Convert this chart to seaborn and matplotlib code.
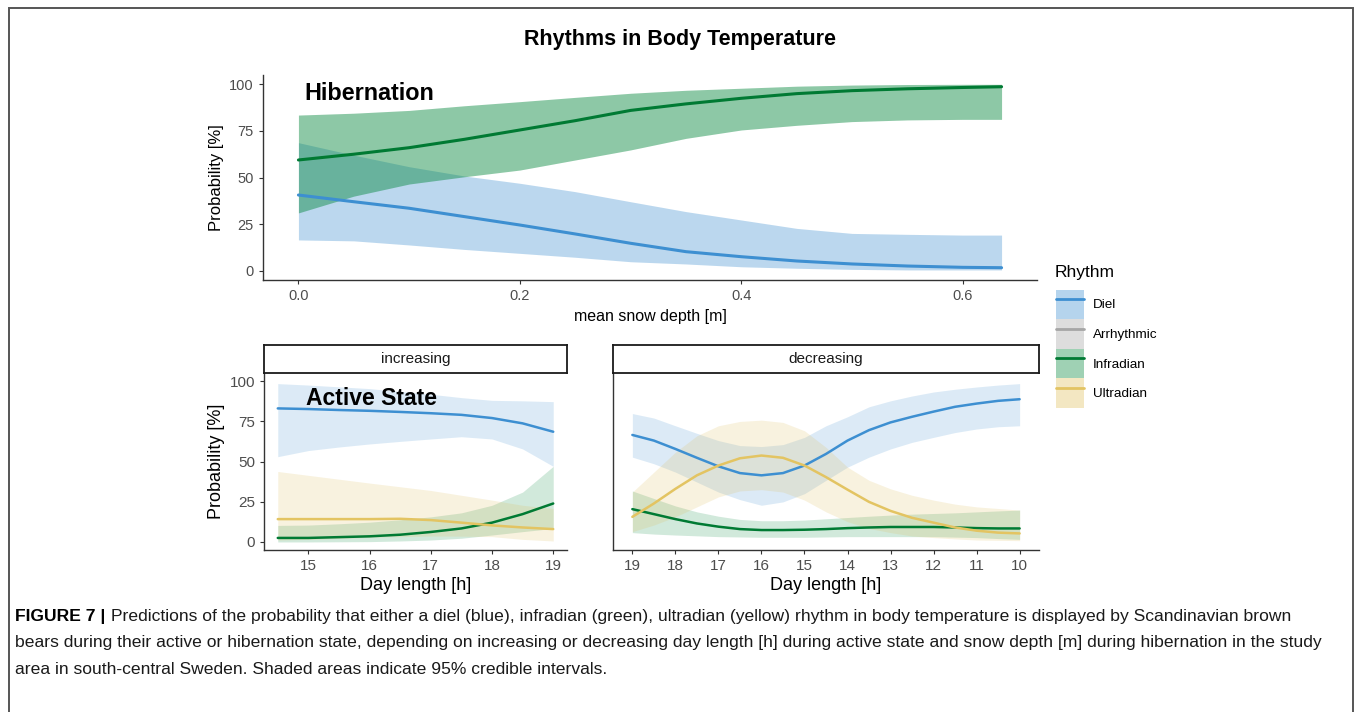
import numpy as np
import pandas as pd
import seaborn as sns
import matplotlib.pyplot as plt
from matplotlib.patches import Patch, Rectangle
from matplotlib.lines import Line2D

# Hibernation: probability vs mean snow depth
snow_depth = [0.0, 0.05, 0.1, 0.15, 0.2, 0.25, 0.3, 0.35, 0.4, 0.45, 0.5, 0.55, 0.6, 0.635]
hib_diel = [40.6, 37, 33.5, 29, 24.5, 19.7, 14.7, 10.2, 7.5, 5.2, 3.6, 2.5, 1.8, 1.6]
hib_diel_hi = [68.7, 62, 55.8, 50.8, 46.9, 42.4, 37, 31.7, 27.2, 22.7, 20, 19.5, 19.1, 19.1]
hib_diel_lo = [16.5, 16, 13.8, 11.4, 9.3, 7.2, 4.8, 3.6, 2.1, 1.3, 0.7, 0.4, 0.4, 0.4]
hib_infra = [59.4, 62.5, 66, 70.5, 75.5, 80.5, 86, 89.5, 92.5, 95, 96.6, 97.6, 98.3, 98.7]
hib_infra_hi = [83.5, 84.5, 86, 88.5, 90.7, 93, 95.2, 96.8, 97.9, 99, 99.6, 99.9, 100, 100]
hib_infra_lo = [31, 40, 46.5, 50.4, 54, 59.4, 64.8, 71, 75.5, 78, 80, 80.9, 81.2, 81.2]

# Active state, increasing day length
inc_day = [14.5, 15, 15.5, 16, 16.5, 17, 17.5, 18, 18.5, 19]
inc_diel = [83, 82.6, 82, 81.5, 80.8, 80, 79, 77, 73.7, 68.5]
inc_diel_hi = [98.4, 97.5, 96.4, 95.3, 93.5, 91.8, 89.7, 88, 87.7, 87.2]
inc_diel_lo = [53, 56.8, 59, 60.9, 62.5, 64, 65.4, 64, 57.8, 47]
inc_infra = [2.5, 2.5, 3, 3.5, 4.5, 6.2, 8.4, 12, 17.3, 23.9]
inc_infra_hi = [10.3, 10.5, 11.3, 12.3, 13.8, 15.6, 18.1, 22.8, 31, 47]
inc_infra_lo = [0, 0, 0.1, 0.2, 0.6, 1.2, 2.3, 4.3, 6.4, 8.4]
inc_ultra = [14.2, 14.2, 14.2, 14.2, 14.4, 13.6, 12, 10.3, 9, 8]
inc_ultra_hi = [43.8, 41.4, 39, 36.6, 34.3, 32, 29, 26, 22.8, 20.8]
inc_ultra_lo = [1.2, 1.6, 2.2, 2.9, 3.3, 3.7, 3.6, 3.3, 1.6, 0.6]

# Active state, decreasing day length
dec_day = [19, 18.5, 18, 17.5, 17, 16.5, 16, 15.5, 15, 14.5, 14, 13.5, 13, 12.5, 12, 11.5, 11, 10.5, 10]
dec_diel = [66.5, 63, 57.8, 52.3, 47, 42.8, 41.4, 42.8, 47.5, 54.7, 63, 69.5, 74.3, 77.8, 81, 84, 86, 87.7, 88.7]
dec_diel_hi = [79.8, 77, 72.2, 67.5, 63, 59.9, 59.3, 60.5, 65, 72.2, 77.8, 84, 87.7, 90.7, 93.2, 94.9, 96.3, 97.5, 98.4]
dec_diel_lo = [52.7, 48.6, 43.4, 37.2, 31, 26.3, 22.8, 24.9, 30, 38.3, 46.5, 52.7, 57.8, 61.9, 65, 68, 70.2, 71.6, 72.2]
dec_infra = [20.4, 17.3, 14.2, 11.5, 9.5, 8, 7.4, 7.4, 7.6, 8, 8.6, 9, 9.3, 9.3, 9.3, 9, 8.6, 8.4, 8.4]
dec_infra_hi = [31.7, 27, 22.4, 18.7, 16, 14, 13.2, 13.2, 13.6, 14.4, 15.2, 16, 16.7, 17.3, 17.7, 18.1, 18.7, 19.3, 19.8]
dec_infra_lo = [5.8, 4.9, 4.3, 3.8, 3.3, 3.1, 2.9, 2.9, 2.9, 3.1, 3.3, 3.3, 3.3, 3.3, 3.3, 3, 2.7, 2.1, 1.6]
dec_ultra = [15.6, 23.9, 33, 41.4, 47.5, 52, 53.7, 52.3, 47.5, 40.3, 32.5, 24.9, 19.3, 15, 12, 9, 7, 5.8, 5.3]
dec_ultra_hi = [31, 43.4, 55.8, 66, 72.2, 74.9, 75.7, 74.3, 69.1, 58.8, 46.5, 38.3, 33, 29, 26, 23.5, 21.8, 20.8, 19.8]
dec_ultra_lo = [6.4, 10.5, 15.6, 21.8, 28, 31.7, 32.5, 31, 26, 18.7, 12.6, 8.4, 5.8, 3.7, 2.7, 1.9, 1.2, 1, 0.8]

rhythms = ["Diel", "Arrhythmic", "Infradian", "Ultradian"]
line_colors = {"Diel": "#3D8FD1", "Arrhythmic": "#A6A6A6", "Infradian": "#007A33", "Ultradian": "#E3C462"}
fill_colors = {"Diel": "#3D8FD1", "Arrhythmic": "#A6A6A6", "Infradian": "#03873B", "Ultradian": "#E0C060"}

caption = [
    "Predictions of the probability that either a diel (blue), infradian (green), ultradian (yellow) rhythm in body temperature is displayed by Scandinavian brown",
    "bears during their active or hibernation state, depending on increasing or decreasing day length [h] during active state and snow depth [m] during hibernation in the study",
    "area in south-central Sweden. Shaded areas indicate 95% credible intervals.",
]

sns.set_style("ticks")
plt.rcParams['font.family'] = ['Liberation Sans', 'DejaVu Sans']
plt.rcParams['text.color'] = 'black'
plt.rcParams['axes.labelcolor'] = 'black'

W, H = 1355, 712
fig = plt.figure(figsize=(W / 100, H / 100), dpi=100)


def box(l, t, r, b):
    return [l / W, 1 - b / H, (r - l) / W, (b - t) / H]


def band(ax, x, mid, lo, hi, name, alpha, lw):
    ax.fill_between(x, lo, hi, color=fill_colors[name], alpha=alpha, lw=0)
    sns.lineplot(x=x, y=mid, color=line_colors[name], lw=lw, ax=ax, sort=False)


def style(ax, labelsize):
    sns.despine(ax=ax)
    for s in ["left", "bottom"]:
        ax.spines[s].set_color("#333333")
        ax.spines[s].set_linewidth(1.0)
    ax.tick_params(labelsize=labelsize, labelcolor="#4D4D4D", color="#333333", length=3, width=0.8)
    ax.set_ylim(-5, 105)
    ax.set_yticks([0, 25, 50, 75, 100])


# ---- hibernation panel
ax1 = fig.add_axes(box(263, 75, 1037, 280))
band(ax1, snow_depth, hib_diel, hib_diel_lo, hib_diel_hi, "Diel", 0.35, 2.2)
band(ax1, snow_depth, hib_infra, hib_infra_lo, hib_infra_hi, "Infradian", 0.45, 2.2)
style(ax1, 10.5)
ax1.set_xlim(-0.032, 0.667)
ax1.set_xticks([0, 0.2, 0.4, 0.6])
ax1.set_xticklabels(["0.0", "0.2", "0.4", "0.6"])
ax1.set_xlabel("mean snow depth [m]", fontsize=11.5, labelpad=4)
ax1.set_ylabel("Probability [%]", fontsize=12, labelpad=4)
ax1.text(0.005, 95, "Hibernation", fontsize=16.8, fontweight="bold", va="center")

# ---- active state, increasing
ax2 = fig.add_axes(box(264, 373, 567, 550))
band(ax2, inc_day, inc_diel, inc_diel_lo, inc_diel_hi, "Diel", 0.18, 1.8)
band(ax2, inc_day, inc_infra, inc_infra_lo, inc_infra_hi, "Infradian", 0.18, 1.8)
band(ax2, inc_day, inc_ultra, inc_ultra_lo, inc_ultra_hi, "Ultradian", 0.2, 1.8)
style(ax2, 11)
ax2.set_xlim(14.275, 19.225)
ax2.set_xticks([15, 16, 17, 18, 19])
ax2.set_xlabel("Day length [h]", fontsize=13, labelpad=3)
ax2.set_ylabel("Probability [%]", fontsize=13, labelpad=3)
ax2.text(14.96, 89, "Active State", fontsize=16.5, fontweight="bold", va="center")

# ---- active state, decreasing
ax3 = fig.add_axes(box(613, 373, 1039, 550))
band(ax3, dec_day, dec_diel, dec_diel_lo, dec_diel_hi, "Diel", 0.18, 1.8)
band(ax3, dec_day, dec_infra, dec_infra_lo, dec_infra_hi, "Infradian", 0.18, 1.8)
band(ax3, dec_day, dec_ultra, dec_ultra_lo, dec_ultra_hi, "Ultradian", 0.2, 1.8)
style(ax3, 11)
ax3.set_xlim(19.45, 9.55)
ax3.set_xticks(list(range(19, 9, -1)))
ax3.tick_params(axis="y", left=False, labelleft=False)
ax3.set_xlabel("Day length [h]", fontsize=13, labelpad=3)
ax3.set_ylabel("")

# facet strips
for (l, r), lab in zip([(264, 567), (613, 1039)], ["increasing", "decreasing"]):
    sax = fig.add_axes(box(l, 345, r, 373))
    sax.set_xticks([])
    sax.set_yticks([])
    for s in sax.spines.values():
        s.set_visible(True)
        s.set_color("#1A1A1A")
        s.set_linewidth(1.3)
    sax.text(0.5, 0.5, lab, ha="center", va="center", fontsize=11, color="#1A1A1A", transform=sax.transAxes)

# title
fig.text(680 / W, 1 - 40 / H, "Rhythms in Body Temperature", ha="center", va="center",
         fontsize=15.5, fontweight="bold")

# legend (title placed separately to leave the gap above the keys)
handles = [(Patch(facecolor=fill_colors[r], alpha=0.38, edgecolor="none"),
            Line2D([0], [0], color=line_colors[r], lw=2)) for r in rhythms]
leg = fig.legend(handles, rhythms, loc="upper left", bbox_to_anchor=(1049 / W, 1 - 283 / H),
                 frameon=False, fontsize=9.7,
                 handlelength=2.1, handleheight=3.0, labelspacing=0, handletextpad=0.65,
                 borderpad=0)
fig.text(1055 / W, 1 - 273 / H, "Rhythm", fontsize=12.5, va="center")

# caption
renderer = fig.canvas.get_renderer()
head = fig.text(15 / W, 1 - 617 / H, "FIGURE 7 |", fontsize=12.6, fontweight="bold", va="center")
bb = head.get_window_extent(renderer)
fig.text(bb.x1 / W + 6 / W, 1 - 617 / H, caption[0], fontsize=12.6, va="center", color="#1A1A1A")
fig.text(15 / W, 1 - 643 / H, caption[1], fontsize=12.6, va="center", color="#1A1A1A")
fig.text(15 / W, 1 - 669 / H, caption[2], fontsize=12.6, va="center", color="#1A1A1A")

# outer frame
fig.patches.append(Rectangle((9 / W, -0.02), 1344 / W, 1.02 - 8 / H, transform=fig.transFigure,
                             fill=False, edgecolor="#555555", lw=1.4, clip_on=False))

fig.savefig("out.png", dpi=100)
